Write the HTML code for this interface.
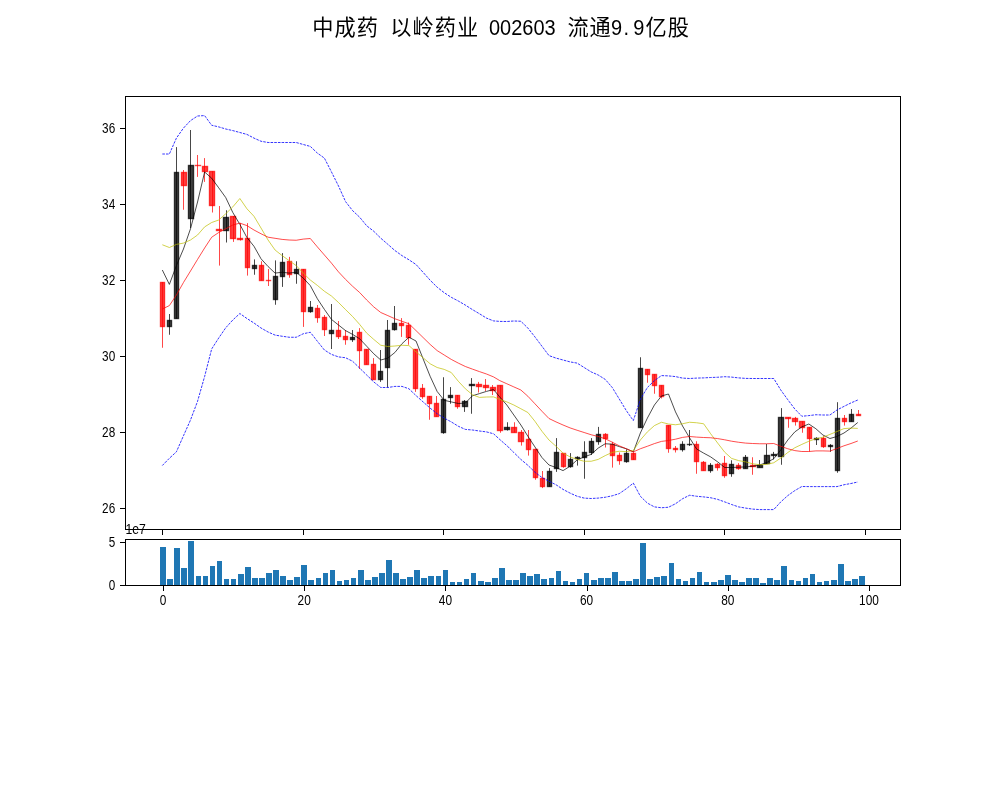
<!DOCTYPE html>
<html lang="zh"><head><meta charset="utf-8"><title>中成药 以岭药业 002603</title>
<style>html,body{margin:0;padding:0;background:#fff}body{width:1000px;height:800px;overflow:hidden}svg{display:block}text{font-family:"Liberation Sans","Noto Sans CJK SC",sans-serif;fill:#000}.t{font-size:22.2px}.d{font-size:20px}.k{font-size:13.9px}</style></head><body>
<svg width="1000" height="800" viewBox="0 0 1000 800">
<rect width="1000" height="800" fill="#fff"/>
<text y="35.1" font-size="21.2"><tspan x="312.3 334.5 356.7">中成药</tspan> <tspan x="390.3 412.5 434.7 456.9">以岭药业</tspan> </text>
<text transform="translate(489.0,34.8) scale(0.9,1)" font-size="22.2">002603</text>
<text y="35.1" font-size="21.2"> <tspan x="567.4 589.6">流通</tspan></text>
<text transform="translate(611.0,34.8) scale(0.9,1)" font-size="22.2" x="0 13.8 24.7">9.9</text>
<text y="35.1" font-size="21.2"><tspan x="645.6 667.8">亿股</tspan></text>
<g fill="#1f77b4" shape-rendering="crispEdges">
<rect x="160" y="547" width="6" height="38"/>
<rect x="167" y="579" width="6" height="6"/>
<rect x="174" y="548" width="6" height="37"/>
<rect x="181" y="568" width="6" height="17"/>
<rect x="188" y="541" width="6" height="44"/>
<rect x="196" y="576" width="5" height="9"/>
<rect x="203" y="576" width="5" height="9"/>
<rect x="210" y="566" width="5" height="19"/>
<rect x="217" y="561" width="5" height="24"/>
<rect x="224" y="579" width="5" height="6"/>
<rect x="231" y="579" width="5" height="6"/>
<rect x="238" y="574" width="6" height="11"/>
<rect x="245" y="567" width="6" height="18"/>
<rect x="252" y="578" width="6" height="7"/>
<rect x="259" y="578" width="6" height="7"/>
<rect x="266" y="573" width="6" height="12"/>
<rect x="273" y="570" width="6" height="15"/>
<rect x="280" y="576" width="6" height="9"/>
<rect x="287" y="580" width="6" height="5"/>
<rect x="294" y="577" width="6" height="8"/>
<rect x="301" y="565" width="6" height="20"/>
<rect x="308" y="580" width="6" height="5"/>
<rect x="316" y="578" width="5" height="7"/>
<rect x="323" y="573" width="5" height="12"/>
<rect x="330" y="570" width="5" height="15"/>
<rect x="337" y="581" width="5" height="4"/>
<rect x="344" y="580" width="5" height="5"/>
<rect x="351" y="578" width="5" height="7"/>
<rect x="358" y="570" width="6" height="15"/>
<rect x="365" y="580" width="6" height="5"/>
<rect x="372" y="577" width="6" height="8"/>
<rect x="379" y="573" width="6" height="12"/>
<rect x="386" y="560" width="6" height="25"/>
<rect x="393" y="573" width="6" height="12"/>
<rect x="400" y="579" width="6" height="6"/>
<rect x="407" y="577" width="6" height="8"/>
<rect x="414" y="570" width="6" height="15"/>
<rect x="421" y="578" width="6" height="7"/>
<rect x="428" y="576" width="6" height="9"/>
<rect x="436" y="576" width="5" height="9"/>
<rect x="443" y="570" width="5" height="15"/>
<rect x="450" y="582" width="5" height="3"/>
<rect x="457" y="582" width="5" height="3"/>
<rect x="464" y="579" width="5" height="6"/>
<rect x="471" y="573" width="5" height="12"/>
<rect x="478" y="581" width="6" height="4"/>
<rect x="485" y="582" width="6" height="3"/>
<rect x="492" y="578" width="6" height="7"/>
<rect x="499" y="568" width="6" height="17"/>
<rect x="506" y="580" width="6" height="5"/>
<rect x="513" y="580" width="6" height="5"/>
<rect x="520" y="573" width="6" height="12"/>
<rect x="527" y="576" width="6" height="9"/>
<rect x="534" y="574" width="6" height="11"/>
<rect x="541" y="579" width="6" height="6"/>
<rect x="549" y="578" width="5" height="7"/>
<rect x="556" y="571" width="5" height="14"/>
<rect x="563" y="581" width="5" height="4"/>
<rect x="570" y="582" width="5" height="3"/>
<rect x="577" y="579" width="5" height="6"/>
<rect x="584" y="573" width="5" height="12"/>
<rect x="591" y="580" width="6" height="5"/>
<rect x="598" y="578" width="6" height="7"/>
<rect x="605" y="578" width="6" height="7"/>
<rect x="612" y="572" width="6" height="13"/>
<rect x="619" y="581" width="6" height="4"/>
<rect x="626" y="581" width="6" height="4"/>
<rect x="633" y="579" width="6" height="6"/>
<rect x="640" y="543" width="6" height="42"/>
<rect x="647" y="579" width="6" height="6"/>
<rect x="654" y="577" width="6" height="8"/>
<rect x="661" y="576" width="6" height="9"/>
<rect x="669" y="563" width="5" height="22"/>
<rect x="676" y="579" width="5" height="6"/>
<rect x="683" y="581" width="5" height="4"/>
<rect x="690" y="578" width="5" height="7"/>
<rect x="697" y="572" width="5" height="13"/>
<rect x="704" y="582" width="5" height="3"/>
<rect x="711" y="582" width="6" height="3"/>
<rect x="718" y="580" width="6" height="5"/>
<rect x="725" y="575" width="6" height="10"/>
<rect x="732" y="580" width="6" height="5"/>
<rect x="739" y="582" width="6" height="3"/>
<rect x="746" y="578" width="6" height="7"/>
<rect x="753" y="578" width="6" height="7"/>
<rect x="760" y="583" width="6" height="2"/>
<rect x="767" y="578" width="6" height="7"/>
<rect x="774" y="580" width="6" height="5"/>
<rect x="781" y="566" width="6" height="19"/>
<rect x="789" y="580" width="5" height="5"/>
<rect x="796" y="581" width="5" height="4"/>
<rect x="803" y="578" width="5" height="7"/>
<rect x="810" y="574" width="5" height="11"/>
<rect x="817" y="582" width="5" height="3"/>
<rect x="824" y="581" width="5" height="4"/>
<rect x="831" y="580" width="6" height="5"/>
<rect x="838" y="564" width="6" height="21"/>
<rect x="845" y="581" width="6" height="4"/>
<rect x="852" y="579" width="6" height="6"/>
<rect x="859" y="576" width="6" height="9"/>
</g>
<g>
<rect x="160.5" y="282.50" width="4.0" height="44.00" fill="#ff0000" fill-opacity="0.75" stroke="#ff0000" stroke-opacity="0.75" stroke-width="1.39"/>
<path d="M162.5 282.10V347.75" stroke="#ff0000" stroke-width="0.72"/>
<rect x="167.5" y="320.50" width="4.0" height="6.00" fill="#000000" fill-opacity="0.75" stroke="#000000" stroke-opacity="0.75" stroke-width="1.39"/>
<path d="M169.5 314.00V334.75" stroke="#000000" stroke-width="0.72"/>
<rect x="174.5" y="172.50" width="4.0" height="146.00" fill="#000000" fill-opacity="0.75" stroke="#000000" stroke-opacity="0.75" stroke-width="1.39"/>
<path d="M176.5 147.10V318.50" stroke="#000000" stroke-width="0.72"/>
<rect x="181.5" y="172.50" width="5.0" height="13.00" fill="#ff0000" fill-opacity="0.75" stroke="#ff0000" stroke-opacity="0.75" stroke-width="1.39"/>
<path d="M183.5 170.00V209.75" stroke="#ff0000" stroke-width="0.72"/>
<rect x="188.5" y="165.50" width="5.0" height="53.00" fill="#000000" fill-opacity="0.75" stroke="#000000" stroke-opacity="0.75" stroke-width="1.39"/>
<path d="M190.5 130.00V228.00" stroke="#000000" stroke-width="0.72"/>
<rect x="195.5" y="165.50" width="5.0" height="0.01" fill="#ff0000" fill-opacity="0.75" stroke="#ff0000" stroke-opacity="0.75" stroke-width="1.39"/>
<path d="M197.5 155.00V176.90" stroke="#ff0000" stroke-width="0.72"/>
<rect x="202.5" y="166.50" width="5.0" height="5.00" fill="#ff0000" fill-opacity="0.75" stroke="#ff0000" stroke-opacity="0.75" stroke-width="1.39"/>
<path d="M204.5 158.10V181.90" stroke="#ff0000" stroke-width="0.72"/>
<rect x="209.5" y="171.50" width="5.0" height="34.00" fill="#ff0000" fill-opacity="0.75" stroke="#ff0000" stroke-opacity="0.75" stroke-width="1.39"/>
<path d="M212.5 171.25V212.50" stroke="#ff0000" stroke-width="0.72"/>
<rect x="216.5" y="229.50" width="5.0" height="1.00" fill="#ff0000" fill-opacity="0.75" stroke="#ff0000" stroke-opacity="0.75" stroke-width="1.39"/>
<path d="M219.5 206.00V265.60" stroke="#ff0000" stroke-width="0.72"/>
<rect x="223.5" y="217.50" width="5.0" height="13.00" fill="#000000" fill-opacity="0.75" stroke="#000000" stroke-opacity="0.75" stroke-width="1.39"/>
<path d="M226.5 210.25V242.50" stroke="#000000" stroke-width="0.72"/>
<rect x="230.5" y="216.50" width="5.0" height="22.00" fill="#ff0000" fill-opacity="0.75" stroke="#ff0000" stroke-opacity="0.75" stroke-width="1.39"/>
<path d="M233.5 216.00V241.90" stroke="#ff0000" stroke-width="0.72"/>
<rect x="237.5" y="238.50" width="5.0" height="1.00" fill="#ff0000" fill-opacity="0.75" stroke="#ff0000" stroke-opacity="0.75" stroke-width="1.39"/>
<path d="M240.5 223.10V240.60" stroke="#ff0000" stroke-width="0.72"/>
<rect x="245.5" y="238.50" width="4.0" height="29.00" fill="#ff0000" fill-opacity="0.75" stroke="#ff0000" stroke-opacity="0.75" stroke-width="1.39"/>
<path d="M247.5 223.10V275.60" stroke="#ff0000" stroke-width="0.72"/>
<rect x="252.5" y="265.50" width="4.0" height="3.00" fill="#000000" fill-opacity="0.75" stroke="#000000" stroke-opacity="0.75" stroke-width="1.39"/>
<path d="M254.5 259.40V274.75" stroke="#000000" stroke-width="0.72"/>
<rect x="259.5" y="265.50" width="4.0" height="15.00" fill="#ff0000" fill-opacity="0.75" stroke="#ff0000" stroke-opacity="0.75" stroke-width="1.39"/>
<path d="M261.5 261.25V280.60" stroke="#ff0000" stroke-width="0.72"/>
<rect x="266.5" y="280.50" width="4.0" height="0.01" fill="#ff0000" fill-opacity="0.75" stroke="#ff0000" stroke-opacity="0.75" stroke-width="1.39"/>
<path d="M268.5 269.00V286.00" stroke="#ff0000" stroke-width="0.72"/>
<rect x="273.5" y="276.50" width="4.0" height="23.00" fill="#000000" fill-opacity="0.75" stroke="#000000" stroke-opacity="0.75" stroke-width="1.39"/>
<path d="M275.5 260.40V304.75" stroke="#000000" stroke-width="0.72"/>
<rect x="280.5" y="262.50" width="4.0" height="14.00" fill="#000000" fill-opacity="0.75" stroke="#000000" stroke-opacity="0.75" stroke-width="1.39"/>
<path d="M282.5 253.10V286.90" stroke="#000000" stroke-width="0.72"/>
<rect x="287.5" y="261.50" width="4.0" height="13.00" fill="#ff0000" fill-opacity="0.75" stroke="#ff0000" stroke-opacity="0.75" stroke-width="1.39"/>
<path d="M289.5 256.90V277.75" stroke="#ff0000" stroke-width="0.72"/>
<rect x="294.5" y="269.50" width="4.0" height="4.00" fill="#000000" fill-opacity="0.75" stroke="#000000" stroke-opacity="0.75" stroke-width="1.39"/>
<path d="M296.5 261.25V283.75" stroke="#000000" stroke-width="0.72"/>
<rect x="301.5" y="269.50" width="4.0" height="42.00" fill="#ff0000" fill-opacity="0.75" stroke="#ff0000" stroke-opacity="0.75" stroke-width="1.39"/>
<path d="M303.5 269.00V326.90" stroke="#ff0000" stroke-width="0.72"/>
<rect x="308.5" y="307.50" width="4.0" height="4.00" fill="#000000" fill-opacity="0.75" stroke="#000000" stroke-opacity="0.75" stroke-width="1.39"/>
<path d="M310.5 301.00V312.75" stroke="#000000" stroke-width="0.72"/>
<rect x="315.5" y="308.50" width="4.0" height="9.00" fill="#ff0000" fill-opacity="0.75" stroke="#ff0000" stroke-opacity="0.75" stroke-width="1.39"/>
<path d="M317.5 305.00V322.75" stroke="#ff0000" stroke-width="0.72"/>
<rect x="322.5" y="317.50" width="4.0" height="12.00" fill="#ff0000" fill-opacity="0.75" stroke="#ff0000" stroke-opacity="0.75" stroke-width="1.39"/>
<path d="M324.5 315.00V336.00" stroke="#ff0000" stroke-width="0.72"/>
<rect x="329.5" y="330.50" width="4.0" height="3.00" fill="#000000" fill-opacity="0.75" stroke="#000000" stroke-opacity="0.75" stroke-width="1.39"/>
<path d="M331.5 304.00V349.00" stroke="#000000" stroke-width="0.72"/>
<rect x="336.5" y="330.50" width="4.0" height="6.00" fill="#ff0000" fill-opacity="0.75" stroke="#ff0000" stroke-opacity="0.75" stroke-width="1.39"/>
<path d="M338.5 321.00V339.00" stroke="#ff0000" stroke-width="0.72"/>
<rect x="343.5" y="336.50" width="4.0" height="3.00" fill="#ff0000" fill-opacity="0.75" stroke="#ff0000" stroke-opacity="0.75" stroke-width="1.39"/>
<path d="M345.5 330.00V344.75" stroke="#ff0000" stroke-width="0.72"/>
<rect x="350.5" y="337.50" width="4.0" height="2.00" fill="#000000" fill-opacity="0.75" stroke="#000000" stroke-opacity="0.75" stroke-width="1.39"/>
<path d="M352.5 330.00V341.90" stroke="#000000" stroke-width="0.72"/>
<rect x="357.5" y="332.50" width="4.0" height="18.00" fill="#ff0000" fill-opacity="0.75" stroke="#ff0000" stroke-opacity="0.75" stroke-width="1.39"/>
<path d="M359.5 328.10V369.00" stroke="#ff0000" stroke-width="0.72"/>
<rect x="364.5" y="349.50" width="4.0" height="15.00" fill="#ff0000" fill-opacity="0.75" stroke="#ff0000" stroke-opacity="0.75" stroke-width="1.39"/>
<path d="M366.5 349.00V364.60" stroke="#ff0000" stroke-width="0.72"/>
<rect x="371.5" y="364.50" width="4.0" height="15.00" fill="#ff0000" fill-opacity="0.75" stroke="#ff0000" stroke-opacity="0.75" stroke-width="1.39"/>
<path d="M373.5 358.10V379.60" stroke="#ff0000" stroke-width="0.72"/>
<rect x="378.5" y="371.50" width="4.0" height="8.00" fill="#000000" fill-opacity="0.75" stroke="#000000" stroke-opacity="0.75" stroke-width="1.39"/>
<path d="M380.5 350.00V381.90" stroke="#000000" stroke-width="0.72"/>
<rect x="385.5" y="330.50" width="4.0" height="37.00" fill="#000000" fill-opacity="0.75" stroke="#000000" stroke-opacity="0.75" stroke-width="1.39"/>
<path d="M387.5 320.00V387.50" stroke="#000000" stroke-width="0.72"/>
<rect x="392.5" y="323.50" width="4.0" height="6.00" fill="#000000" fill-opacity="0.75" stroke="#000000" stroke-opacity="0.75" stroke-width="1.39"/>
<path d="M394.5 306.00V330.60" stroke="#000000" stroke-width="0.72"/>
<rect x="399.5" y="323.50" width="4.0" height="2.00" fill="#ff0000" fill-opacity="0.75" stroke="#ff0000" stroke-opacity="0.75" stroke-width="1.39"/>
<path d="M401.5 318.10V336.90" stroke="#ff0000" stroke-width="0.72"/>
<rect x="406.5" y="325.50" width="4.0" height="12.00" fill="#ff0000" fill-opacity="0.75" stroke="#ff0000" stroke-opacity="0.75" stroke-width="1.39"/>
<path d="M408.5 322.50V344.75" stroke="#ff0000" stroke-width="0.72"/>
<rect x="413.5" y="349.50" width="4.0" height="39.00" fill="#ff0000" fill-opacity="0.75" stroke="#ff0000" stroke-opacity="0.75" stroke-width="1.39"/>
<path d="M415.5 349.10V391.90" stroke="#ff0000" stroke-width="0.72"/>
<rect x="420.5" y="388.50" width="4.0" height="8.00" fill="#ff0000" fill-opacity="0.75" stroke="#ff0000" stroke-opacity="0.75" stroke-width="1.39"/>
<path d="M422.5 384.00V398.75" stroke="#ff0000" stroke-width="0.72"/>
<rect x="427.5" y="396.50" width="4.0" height="7.00" fill="#ff0000" fill-opacity="0.75" stroke="#ff0000" stroke-opacity="0.75" stroke-width="1.39"/>
<path d="M429.5 396.00V419.75" stroke="#ff0000" stroke-width="0.72"/>
<rect x="434.5" y="403.50" width="4.0" height="13.00" fill="#ff0000" fill-opacity="0.75" stroke="#ff0000" stroke-opacity="0.75" stroke-width="1.39"/>
<path d="M436.5 396.00V416.60" stroke="#ff0000" stroke-width="0.72"/>
<rect x="441.5" y="399.50" width="4.0" height="33.00" fill="#000000" fill-opacity="0.75" stroke="#000000" stroke-opacity="0.75" stroke-width="1.39"/>
<path d="M443.5 377.25V433.75" stroke="#000000" stroke-width="0.72"/>
<rect x="448.5" y="395.50" width="4.0" height="2.00" fill="#000000" fill-opacity="0.75" stroke="#000000" stroke-opacity="0.75" stroke-width="1.39"/>
<path d="M450.5 387.10V403.75" stroke="#000000" stroke-width="0.72"/>
<rect x="455.5" y="395.50" width="4.0" height="11.00" fill="#ff0000" fill-opacity="0.75" stroke="#ff0000" stroke-opacity="0.75" stroke-width="1.39"/>
<path d="M457.5 395.00V408.75" stroke="#ff0000" stroke-width="0.72"/>
<rect x="462.5" y="401.50" width="5.0" height="5.00" fill="#000000" fill-opacity="0.75" stroke="#000000" stroke-opacity="0.75" stroke-width="1.39"/>
<path d="M464.5 400.00V411.90" stroke="#000000" stroke-width="0.72"/>
<rect x="469.5" y="384.50" width="5.0" height="1.00" fill="#000000" fill-opacity="0.75" stroke="#000000" stroke-opacity="0.75" stroke-width="1.39"/>
<path d="M471.5 378.10V413.75" stroke="#000000" stroke-width="0.72"/>
<rect x="476.5" y="384.50" width="5.0" height="2.00" fill="#ff0000" fill-opacity="0.75" stroke="#ff0000" stroke-opacity="0.75" stroke-width="1.39"/>
<path d="M478.5 381.90V392.50" stroke="#ff0000" stroke-width="0.72"/>
<rect x="483.5" y="385.50" width="5.0" height="2.00" fill="#ff0000" fill-opacity="0.75" stroke="#ff0000" stroke-opacity="0.75" stroke-width="1.39"/>
<path d="M485.5 379.00V391.00" stroke="#ff0000" stroke-width="0.72"/>
<rect x="490.5" y="387.50" width="5.0" height="3.00" fill="#ff0000" fill-opacity="0.75" stroke="#ff0000" stroke-opacity="0.75" stroke-width="1.39"/>
<path d="M492.5 385.00V395.00" stroke="#ff0000" stroke-width="0.72"/>
<rect x="497.5" y="385.50" width="5.0" height="45.00" fill="#ff0000" fill-opacity="0.75" stroke="#ff0000" stroke-opacity="0.75" stroke-width="1.39"/>
<path d="M500.5 385.25V432.75" stroke="#ff0000" stroke-width="0.72"/>
<rect x="504.5" y="427.50" width="5.0" height="2.00" fill="#000000" fill-opacity="0.75" stroke="#000000" stroke-opacity="0.75" stroke-width="1.39"/>
<path d="M507.5 422.25V430.60" stroke="#000000" stroke-width="0.72"/>
<rect x="511.5" y="427.50" width="5.0" height="5.00" fill="#ff0000" fill-opacity="0.75" stroke="#ff0000" stroke-opacity="0.75" stroke-width="1.39"/>
<path d="M514.5 422.25V432.50" stroke="#ff0000" stroke-width="0.72"/>
<rect x="518.5" y="432.50" width="5.0" height="9.00" fill="#ff0000" fill-opacity="0.75" stroke="#ff0000" stroke-opacity="0.75" stroke-width="1.39"/>
<path d="M521.5 430.00V445.60" stroke="#ff0000" stroke-width="0.72"/>
<rect x="526.5" y="439.50" width="4.0" height="10.00" fill="#ff0000" fill-opacity="0.75" stroke="#ff0000" stroke-opacity="0.75" stroke-width="1.39"/>
<path d="M528.5 430.00V455.60" stroke="#ff0000" stroke-width="0.72"/>
<rect x="533.5" y="449.50" width="4.0" height="28.00" fill="#ff0000" fill-opacity="0.75" stroke="#ff0000" stroke-opacity="0.75" stroke-width="1.39"/>
<path d="M535.5 448.75V479.75" stroke="#ff0000" stroke-width="0.72"/>
<rect x="540.5" y="478.50" width="4.0" height="8.00" fill="#ff0000" fill-opacity="0.75" stroke="#ff0000" stroke-opacity="0.75" stroke-width="1.39"/>
<path d="M542.5 471.00V488.10" stroke="#ff0000" stroke-width="0.72"/>
<rect x="547.5" y="471.50" width="4.0" height="15.00" fill="#000000" fill-opacity="0.75" stroke="#000000" stroke-opacity="0.75" stroke-width="1.39"/>
<path d="M549.5 468.10V486.60" stroke="#000000" stroke-width="0.72"/>
<rect x="554.5" y="452.50" width="4.0" height="16.00" fill="#000000" fill-opacity="0.75" stroke="#000000" stroke-opacity="0.75" stroke-width="1.39"/>
<path d="M556.5 438.10V471.90" stroke="#000000" stroke-width="0.72"/>
<rect x="561.5" y="453.50" width="4.0" height="13.00" fill="#ff0000" fill-opacity="0.75" stroke="#ff0000" stroke-opacity="0.75" stroke-width="1.39"/>
<path d="M563.5 453.10V467.75" stroke="#ff0000" stroke-width="0.72"/>
<rect x="568.5" y="459.50" width="4.0" height="7.00" fill="#000000" fill-opacity="0.75" stroke="#000000" stroke-opacity="0.75" stroke-width="1.39"/>
<path d="M570.5 453.10V467.75" stroke="#000000" stroke-width="0.72"/>
<rect x="575.5" y="457.50" width="4.0" height="1.00" fill="#000000" fill-opacity="0.75" stroke="#000000" stroke-opacity="0.75" stroke-width="1.39"/>
<path d="M577.5 456.25V465.60" stroke="#000000" stroke-width="0.72"/>
<rect x="582.5" y="452.50" width="4.0" height="5.00" fill="#000000" fill-opacity="0.75" stroke="#000000" stroke-opacity="0.75" stroke-width="1.39"/>
<path d="M584.5 441.25V478.75" stroke="#000000" stroke-width="0.72"/>
<rect x="589.5" y="441.50" width="4.0" height="11.00" fill="#000000" fill-opacity="0.75" stroke="#000000" stroke-opacity="0.75" stroke-width="1.39"/>
<path d="M591.5 438.10V455.00" stroke="#000000" stroke-width="0.72"/>
<rect x="596.5" y="434.50" width="4.0" height="7.00" fill="#000000" fill-opacity="0.75" stroke="#000000" stroke-opacity="0.75" stroke-width="1.39"/>
<path d="M598.5 426.90V444.75" stroke="#000000" stroke-width="0.72"/>
<rect x="603.5" y="434.50" width="4.0" height="4.00" fill="#ff0000" fill-opacity="0.75" stroke="#ff0000" stroke-opacity="0.75" stroke-width="1.39"/>
<path d="M605.5 433.10V447.50" stroke="#ff0000" stroke-width="0.72"/>
<rect x="610.5" y="444.50" width="4.0" height="11.00" fill="#ff0000" fill-opacity="0.75" stroke="#ff0000" stroke-opacity="0.75" stroke-width="1.39"/>
<path d="M612.5 441.90V467.60" stroke="#ff0000" stroke-width="0.72"/>
<rect x="617.5" y="455.50" width="4.0" height="5.00" fill="#ff0000" fill-opacity="0.75" stroke="#ff0000" stroke-opacity="0.75" stroke-width="1.39"/>
<path d="M619.5 452.50V464.75" stroke="#ff0000" stroke-width="0.72"/>
<rect x="624.5" y="453.50" width="4.0" height="8.00" fill="#000000" fill-opacity="0.75" stroke="#000000" stroke-opacity="0.75" stroke-width="1.39"/>
<path d="M626.5 449.40V462.75" stroke="#000000" stroke-width="0.72"/>
<rect x="631.5" y="453.50" width="4.0" height="6.00" fill="#ff0000" fill-opacity="0.75" stroke="#ff0000" stroke-opacity="0.75" stroke-width="1.39"/>
<path d="M633.5 452.30V459.75" stroke="#ff0000" stroke-width="0.72"/>
<rect x="638.5" y="368.50" width="4.0" height="59.00" fill="#000000" fill-opacity="0.75" stroke="#000000" stroke-opacity="0.75" stroke-width="1.39"/>
<path d="M640.5 357.25V427.50" stroke="#000000" stroke-width="0.72"/>
<rect x="645.5" y="369.50" width="4.0" height="5.00" fill="#ff0000" fill-opacity="0.75" stroke="#ff0000" stroke-opacity="0.75" stroke-width="1.39"/>
<path d="M647.5 369.10V382.75" stroke="#ff0000" stroke-width="0.72"/>
<rect x="652.5" y="374.50" width="4.0" height="11.00" fill="#ff0000" fill-opacity="0.75" stroke="#ff0000" stroke-opacity="0.75" stroke-width="1.39"/>
<path d="M654.5 374.10V393.75" stroke="#ff0000" stroke-width="0.72"/>
<rect x="659.5" y="385.50" width="4.0" height="11.00" fill="#ff0000" fill-opacity="0.75" stroke="#ff0000" stroke-opacity="0.75" stroke-width="1.39"/>
<path d="M661.5 385.25V398.50" stroke="#ff0000" stroke-width="0.72"/>
<rect x="666.5" y="425.50" width="4.0" height="23.00" fill="#ff0000" fill-opacity="0.75" stroke="#ff0000" stroke-opacity="0.75" stroke-width="1.39"/>
<path d="M668.5 425.25V452.75" stroke="#ff0000" stroke-width="0.72"/>
<rect x="673.5" y="448.50" width="4.0" height="1.00" fill="#ff0000" fill-opacity="0.75" stroke="#ff0000" stroke-opacity="0.75" stroke-width="1.39"/>
<path d="M675.5 446.00V452.50" stroke="#ff0000" stroke-width="0.72"/>
<rect x="680.5" y="444.50" width="4.0" height="5.00" fill="#000000" fill-opacity="0.75" stroke="#000000" stroke-opacity="0.75" stroke-width="1.39"/>
<path d="M682.5 441.25V451.60" stroke="#000000" stroke-width="0.72"/>
<rect x="687.5" y="444.50" width="4.0" height="0.01" fill="#000000" fill-opacity="0.75" stroke="#000000" stroke-opacity="0.75" stroke-width="1.39"/>
<path d="M689.5 430.00V446.00" stroke="#000000" stroke-width="0.72"/>
<rect x="694.5" y="444.50" width="4.0" height="17.00" fill="#ff0000" fill-opacity="0.75" stroke="#ff0000" stroke-opacity="0.75" stroke-width="1.39"/>
<path d="M696.5 441.25V473.75" stroke="#ff0000" stroke-width="0.72"/>
<rect x="701.5" y="462.50" width="4.0" height="8.00" fill="#ff0000" fill-opacity="0.75" stroke="#ff0000" stroke-opacity="0.75" stroke-width="1.39"/>
<path d="M703.5 461.00V470.60" stroke="#ff0000" stroke-width="0.72"/>
<rect x="708.5" y="465.50" width="4.0" height="5.00" fill="#000000" fill-opacity="0.75" stroke="#000000" stroke-opacity="0.75" stroke-width="1.39"/>
<path d="M710.5 463.10V472.75" stroke="#000000" stroke-width="0.72"/>
<rect x="715.5" y="464.50" width="4.0" height="3.00" fill="#ff0000" fill-opacity="0.75" stroke="#ff0000" stroke-opacity="0.75" stroke-width="1.39"/>
<path d="M717.5 463.10V470.60" stroke="#ff0000" stroke-width="0.72"/>
<rect x="722.5" y="463.50" width="4.0" height="12.00" fill="#ff0000" fill-opacity="0.75" stroke="#ff0000" stroke-opacity="0.75" stroke-width="1.39"/>
<path d="M724.5 456.00V477.75" stroke="#ff0000" stroke-width="0.72"/>
<rect x="729.5" y="464.50" width="4.0" height="9.00" fill="#000000" fill-opacity="0.75" stroke="#000000" stroke-opacity="0.75" stroke-width="1.39"/>
<path d="M731.5 460.25V476.75" stroke="#000000" stroke-width="0.72"/>
<rect x="736.5" y="465.50" width="4.0" height="3.00" fill="#ff0000" fill-opacity="0.75" stroke="#ff0000" stroke-opacity="0.75" stroke-width="1.39"/>
<path d="M738.5 463.10V469.75" stroke="#ff0000" stroke-width="0.72"/>
<rect x="743.5" y="457.50" width="4.0" height="11.00" fill="#000000" fill-opacity="0.75" stroke="#000000" stroke-opacity="0.75" stroke-width="1.39"/>
<path d="M745.5 455.00V468.50" stroke="#000000" stroke-width="0.72"/>
<rect x="750.5" y="465.50" width="5.0" height="1.00" fill="#ff0000" fill-opacity="0.75" stroke="#ff0000" stroke-opacity="0.75" stroke-width="1.39"/>
<path d="M752.5 457.25V474.75" stroke="#ff0000" stroke-width="0.72"/>
<rect x="757.5" y="465.50" width="5.0" height="2.00" fill="#000000" fill-opacity="0.75" stroke="#000000" stroke-opacity="0.75" stroke-width="1.39"/>
<path d="M759.5 460.00V467.50" stroke="#000000" stroke-width="0.72"/>
<rect x="764.5" y="455.50" width="5.0" height="8.00" fill="#000000" fill-opacity="0.75" stroke="#000000" stroke-opacity="0.75" stroke-width="1.39"/>
<path d="M766.5 444.00V464.00" stroke="#000000" stroke-width="0.72"/>
<rect x="771.5" y="454.50" width="5.0" height="1.00" fill="#000000" fill-opacity="0.75" stroke="#000000" stroke-opacity="0.75" stroke-width="1.39"/>
<path d="M773.5 451.90V459.40" stroke="#000000" stroke-width="0.72"/>
<rect x="778.5" y="417.50" width="5.0" height="39.00" fill="#000000" fill-opacity="0.75" stroke="#000000" stroke-opacity="0.75" stroke-width="1.39"/>
<path d="M781.5 408.10V464.75" stroke="#000000" stroke-width="0.72"/>
<rect x="785.5" y="417.50" width="5.0" height="1.00" fill="#ff0000" fill-opacity="0.75" stroke="#ff0000" stroke-opacity="0.75" stroke-width="1.39"/>
<path d="M788.5 417.25V427.75" stroke="#ff0000" stroke-width="0.72"/>
<rect x="792.5" y="418.50" width="5.0" height="3.00" fill="#ff0000" fill-opacity="0.75" stroke="#ff0000" stroke-opacity="0.75" stroke-width="1.39"/>
<path d="M795.5 416.90V425.60" stroke="#ff0000" stroke-width="0.72"/>
<rect x="799.5" y="421.50" width="5.0" height="6.00" fill="#ff0000" fill-opacity="0.75" stroke="#ff0000" stroke-opacity="0.75" stroke-width="1.39"/>
<path d="M802.5 421.25V432.75" stroke="#ff0000" stroke-width="0.72"/>
<rect x="807.5" y="427.50" width="4.0" height="11.00" fill="#ff0000" fill-opacity="0.75" stroke="#ff0000" stroke-opacity="0.75" stroke-width="1.39"/>
<path d="M809.5 427.10V451.50" stroke="#ff0000" stroke-width="0.72"/>
<rect x="814.5" y="438.50" width="4.0" height="1.00" fill="#000000" fill-opacity="0.75" stroke="#000000" stroke-opacity="0.75" stroke-width="1.39"/>
<path d="M816.5 437.25V445.00" stroke="#000000" stroke-width="0.72"/>
<rect x="821.5" y="438.50" width="4.0" height="8.00" fill="#ff0000" fill-opacity="0.75" stroke="#ff0000" stroke-opacity="0.75" stroke-width="1.39"/>
<path d="M823.5 436.25V447.90" stroke="#ff0000" stroke-width="0.72"/>
<rect x="828.5" y="445.50" width="4.0" height="1.00" fill="#000000" fill-opacity="0.75" stroke="#000000" stroke-opacity="0.75" stroke-width="1.39"/>
<path d="M830.5 444.10V451.90" stroke="#000000" stroke-width="0.72"/>
<rect x="835.5" y="418.50" width="4.0" height="52.00" fill="#000000" fill-opacity="0.75" stroke="#000000" stroke-opacity="0.75" stroke-width="1.39"/>
<path d="M837.5 402.20V472.75" stroke="#000000" stroke-width="0.72"/>
<rect x="842.5" y="418.50" width="4.0" height="3.00" fill="#ff0000" fill-opacity="0.75" stroke="#ff0000" stroke-opacity="0.75" stroke-width="1.39"/>
<path d="M844.5 415.00V425.60" stroke="#ff0000" stroke-width="0.72"/>
<rect x="849.5" y="414.50" width="4.0" height="7.00" fill="#000000" fill-opacity="0.75" stroke="#000000" stroke-opacity="0.75" stroke-width="1.39"/>
<path d="M851.5 409.00V421.50" stroke="#000000" stroke-width="0.72"/>
<rect x="856.5" y="414.50" width="4.0" height="1.00" fill="#ff0000" fill-opacity="0.75" stroke="#ff0000" stroke-opacity="0.75" stroke-width="1.39"/>
<path d="M858.5 410.00V415.60" stroke="#ff0000" stroke-width="0.72"/>
</g>
<polyline points="162.33,270.00 169.36,284.40 176.41,265.60 183.46,249.00 190.51,228.75 197.56,202.00 204.61,172.00 211.66,178.20 218.71,187.80 225.76,197.60 232.81,212.50 239.86,224.40 246.91,237.50 253.96,246.25 261.01,258.75 268.06,266.50 275.07,273.10 282.12,272.25 289.17,273.10 296.21,272.25 303.26,278.10 310.31,285.60 317.36,298.75 324.40,309.40 331.45,319.40 338.50,325.00 345.55,330.60 352.59,334.40 359.64,338.75 366.69,346.25 373.74,353.75 380.78,360.00 387.83,358.10 394.88,352.50 401.93,343.75 408.97,337.25 416.02,341.00 423.07,358.75 430.12,376.25 437.16,391.50 444.21,400.30 451.26,401.90 458.30,403.50 465.35,403.10 472.40,395.80 479.45,393.60 486.49,391.40 493.54,389.50 499.78,397.00 506.80,405.00 513.83,415.00 520.86,425.00 527.89,436.25 534.92,446.90 541.95,457.50 548.98,465.00 556.01,467.50 563.04,470.60 570.07,466.25 577.10,460.00 584.13,456.90 591.16,454.40 598.19,448.10 605.22,443.75 612.25,444.20 619.27,446.60 626.30,448.75 633.33,451.90 640.36,433.00 647.39,418.10 654.42,405.00 661.45,396.00 668.48,394.00 675.51,411.90 682.54,426.00 689.57,437.80 696.60,449.00 703.63,453.10 710.66,456.90 717.69,461.90 724.72,467.50 731.59,467.50 738.61,467.20 745.64,466.90 752.66,466.25 759.69,465.00 766.71,462.50 773.74,458.75 780.76,450.00 787.79,440.00 794.81,431.90 801.83,426.90 808.86,424.00 815.88,428.75 822.91,435.00 829.93,438.50 836.96,436.50 843.98,433.00 851.01,428.10 857.78,422.50" fill="none" stroke="#000" stroke-width="0.7" stroke-linejoin="round" />
<polyline points="162.33,244.75 169.36,247.50 176.41,244.40 183.46,243.10 190.51,240.00 197.56,235.00 204.61,226.90 211.66,222.50 218.71,220.00 225.76,213.75 232.81,206.90 239.86,198.50 246.91,208.75 253.96,216.25 261.01,228.00 268.06,240.00 275.07,250.00 282.12,255.60 289.17,260.60 296.21,265.60 303.26,273.10 310.31,280.00 317.36,285.40 324.40,291.25 331.45,296.00 338.50,302.50 345.55,309.60 352.59,316.50 359.64,324.40 366.69,333.10 373.74,339.40 380.78,345.25 387.83,346.50 394.88,346.00 401.93,345.25 408.97,345.60 416.02,351.90 423.07,357.75 430.12,363.75 437.16,367.50 444.21,369.40 451.26,372.50 458.30,381.25 465.35,388.75 472.40,394.70 479.45,397.40 486.49,397.00 493.54,396.90 499.78,399.40 506.80,401.90 513.83,405.00 520.86,408.75 527.89,412.50 534.92,421.25 541.95,431.25 548.98,440.00 556.01,446.25 563.04,453.10 570.07,456.90 577.10,459.40 584.13,461.25 591.16,461.25 598.19,459.40 605.22,455.60 612.25,452.40 619.27,451.25 626.30,451.60 633.33,450.60 640.36,440.00 647.39,431.90 654.42,425.60 661.45,422.25 668.48,424.00 675.51,424.75 682.54,423.75 689.57,422.25 696.60,422.75 703.63,423.75 710.66,433.75 717.69,443.10 724.72,452.20 731.59,458.40 738.61,460.60 745.64,461.90 752.66,463.75 759.69,464.75 766.71,464.40 773.74,462.75 780.76,458.10 787.79,452.50 794.81,447.75 801.83,444.40 808.86,441.25 815.88,438.75 822.91,437.25 829.93,434.40 836.96,431.50 843.98,428.60 851.01,428.10 857.78,428.40" fill="none" stroke="#bfbf00" stroke-width="0.7" stroke-linejoin="round" />
<polyline points="162.33,309.00 169.36,305.60 176.41,295.00 183.46,282.50 190.51,271.00 197.56,259.40 204.61,248.00 211.66,237.25 218.71,232.50 225.76,228.75 232.81,225.00 239.86,223.10 246.91,225.60 253.96,230.00 261.01,233.75 268.06,237.20 275.07,238.30 282.12,239.40 289.17,240.00 296.21,240.25 303.26,239.10 310.31,238.50 317.36,246.90 324.40,255.00 331.45,263.10 338.50,271.90 345.55,279.40 352.59,286.25 359.64,292.50 366.69,300.00 373.74,306.90 380.78,312.50 387.83,315.60 394.88,318.75 401.93,321.25 408.97,323.75 416.02,330.60 423.07,337.50 430.12,344.40 437.16,350.60 444.21,355.00 451.26,359.40 458.30,363.10 465.35,366.50 472.40,369.10 479.45,371.60 486.49,374.00 493.54,376.90 499.78,380.60 506.80,383.75 513.83,386.90 520.86,390.00 527.89,396.25 534.92,403.75 541.95,411.25 548.98,418.50 556.01,421.90 563.04,425.00 570.07,427.90 577.10,430.25 584.13,432.50 591.16,434.75 598.19,436.50 605.22,438.75 612.25,442.20 619.27,445.80 626.30,448.75 633.33,451.90 640.36,448.75 647.39,446.25 654.42,443.60 661.45,441.40 668.48,440.50 675.51,439.20 682.54,437.40 689.57,436.50 696.60,437.10 703.63,437.50 710.66,437.75 717.69,438.60 724.72,439.80 731.59,441.20 738.61,442.25 745.64,443.10 752.66,443.50 759.69,443.75 766.71,443.75 773.74,443.50 780.76,446.25 787.79,448.75 794.81,450.60 801.83,451.50 808.86,451.50 815.88,450.90 822.91,450.90 829.93,451.10 836.96,448.50 843.98,445.80 851.01,443.50 857.78,441.00" fill="none" stroke="#ff0000" stroke-width="0.7" stroke-linejoin="round" />
<polyline points="162.33,154.00 169.36,154.00 176.41,138.10 183.46,128.10 190.51,120.60 197.56,116.00 204.61,115.60 211.66,125.25 218.71,126.90 225.76,129.00 232.81,130.60 239.86,132.50 246.91,134.40 253.96,138.10 261.01,141.25 268.06,142.50 275.07,142.50 282.12,142.50 289.17,142.50 296.21,142.50 303.26,144.50 310.31,146.40 317.36,153.10 324.40,158.10 331.45,171.90 338.50,186.00 345.55,201.60 352.59,210.60 359.64,217.20 366.69,225.80 373.74,231.25 380.78,238.20 387.83,244.30 394.88,250.50 401.93,255.60 408.97,259.80 416.02,264.50 423.07,272.30 430.12,280.20 437.16,287.20 444.21,292.70 451.26,297.30 458.30,301.00 465.35,305.10 472.40,309.60 479.45,313.75 486.49,318.10 493.54,320.90 499.78,321.40 506.80,321.50 513.83,321.00 520.86,321.25 527.89,328.10 534.92,336.90 541.95,346.25 548.98,355.60 556.01,358.10 563.04,360.00 570.07,361.90 577.10,363.10 584.13,367.50 591.16,371.90 598.19,375.00 605.22,379.40 612.25,387.50 619.27,399.00 626.30,410.60 633.33,420.60 640.36,399.40 647.39,387.50 654.42,380.60 661.45,375.60 668.48,375.90 675.51,376.60 682.54,378.10 689.57,378.50 696.60,378.10 703.63,377.90 710.66,377.50 717.69,377.25 724.72,376.70 731.59,377.10 738.61,377.90 745.64,378.40 752.66,378.50 759.69,378.50 766.71,378.50 773.74,378.50 780.76,390.00 787.79,399.70 794.81,409.00 801.83,416.25 808.86,415.60 815.88,414.75 822.91,415.00 829.93,415.00 836.96,410.00 843.98,406.40 851.01,402.90 857.78,400.00" fill="none" stroke="#0000ff" stroke-width="0.8" stroke-linejoin="round" stroke-dasharray="2.57 1.11"/>
<polyline points="162.33,465.50 169.36,458.30 176.41,451.80 183.46,435.80 190.51,420.00 197.56,401.30 204.61,376.50 211.66,349.00 218.71,338.00 225.76,327.75 232.81,320.00 239.86,313.50 246.91,318.50 253.96,323.00 261.01,328.00 268.06,332.00 275.07,335.10 282.12,336.25 289.17,337.25 296.21,337.25 303.26,333.75 310.31,332.25 317.36,341.25 324.40,350.00 331.45,354.40 338.50,356.90 345.55,357.75 352.59,361.25 359.64,368.10 366.69,375.00 373.74,381.90 380.78,387.50 387.83,387.50 394.88,386.40 401.93,386.40 408.97,388.80 416.02,395.60 423.07,401.90 430.12,408.10 437.16,413.75 444.21,418.10 451.26,421.90 458.30,426.25 465.35,429.40 472.40,430.00 479.45,431.00 486.49,431.90 493.54,433.75 499.78,439.50 506.80,445.60 513.83,452.50 520.86,459.40 527.89,465.30 534.92,472.20 541.95,477.50 548.98,481.25 556.01,484.75 563.04,489.40 570.07,493.10 577.10,496.25 584.13,498.10 591.16,498.50 598.19,498.10 605.22,497.25 612.25,495.80 619.27,493.60 626.30,488.75 633.33,483.10 640.36,496.25 647.39,503.10 654.42,506.90 661.45,507.75 668.48,507.25 675.51,503.75 682.54,498.75 689.57,495.25 696.60,496.25 703.63,496.90 710.66,497.75 717.69,499.40 724.72,501.90 731.59,504.50 738.61,506.90 745.64,508.10 752.66,509.10 759.69,509.60 766.71,509.60 773.74,509.60 780.76,501.90 787.79,495.60 794.81,490.60 801.83,486.50 808.86,486.60 815.88,486.60 822.91,486.60 829.93,486.60 836.96,486.60 843.98,484.75 851.01,483.50 857.78,482.00" fill="none" stroke="#0000ff" stroke-width="0.8" stroke-linejoin="round" stroke-dasharray="2.57 1.11"/>
<g fill="none" stroke="#000" stroke-width="1" shape-rendering="crispEdges">
<rect x="125.5" y="96.5" width="775" height="433"/>
<rect x="125.5" y="539.5" width="775" height="46"/>
<path d="M120 128.5H125.5"/>
<path d="M120 204.5H125.5"/>
<path d="M120 280.5H125.5"/>
<path d="M120 356.5H125.5"/>
<path d="M120 432.5H125.5"/>
<path d="M120 508.5H125.5"/>
<path d="M120 542.5H125.5"/>
<path d="M120 585.5H125.5"/>
<path d="M162.5 529.5V534.5"/>
<path d="M163.5 585.5V590.5"/>
<path d="M303.5 529.5V534.5"/>
<path d="M304.5 585.5V590.5"/>
<path d="M443.5 529.5V534.5"/>
<path d="M445.5 585.5V590.5"/>
<path d="M584.5 529.5V534.5"/>
<path d="M587.5 585.5V590.5"/>
<path d="M724.5 529.5V534.5"/>
<path d="M728.5 585.5V590.5"/>
<path d="M865.5 529.5V534.5"/>
<path d="M869.5 585.5V590.5"/>
</g>
<g class="k">
<text x="102.1" y="133.1" textLength="13.1" lengthAdjust="spacingAndGlyphs">36</text>
<text x="102.1" y="209.1" textLength="13.1" lengthAdjust="spacingAndGlyphs">34</text>
<text x="102.1" y="285.1" textLength="13.1" lengthAdjust="spacingAndGlyphs">32</text>
<text x="102.1" y="361.1" textLength="13.1" lengthAdjust="spacingAndGlyphs">30</text>
<text x="102.1" y="437.1" textLength="13.1" lengthAdjust="spacingAndGlyphs">28</text>
<text x="102.1" y="513.1" textLength="13.1" lengthAdjust="spacingAndGlyphs">26</text>
<text x="108.7" y="547.1" textLength="6.5" lengthAdjust="spacingAndGlyphs">5</text>
<text x="108.7" y="590.1" textLength="6.5" lengthAdjust="spacingAndGlyphs">0</text>
<text x="125.5" y="534.3" textLength="20.4" lengthAdjust="spacingAndGlyphs">1e7</text>
<text x="159.8" y="605.3" textLength="6.6" lengthAdjust="spacingAndGlyphs">0</text>
<text x="297.6" y="605.3" textLength="13.2" lengthAdjust="spacingAndGlyphs">20</text>
<text x="438.8" y="605.3" textLength="13.2" lengthAdjust="spacingAndGlyphs">40</text>
<text x="580.0" y="605.3" textLength="13.2" lengthAdjust="spacingAndGlyphs">60</text>
<text x="721.2" y="605.3" textLength="13.2" lengthAdjust="spacingAndGlyphs">80</text>
<text x="859.1" y="605.3" textLength="19.8" lengthAdjust="spacingAndGlyphs">100</text>
</g>
</svg></body></html>
